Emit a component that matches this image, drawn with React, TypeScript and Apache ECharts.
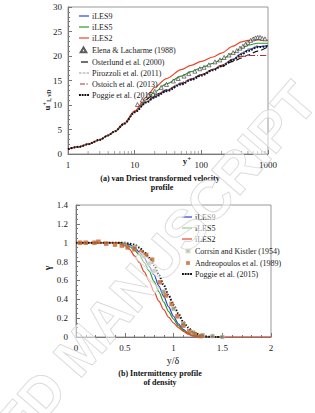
import React, { useEffect, useRef } from "react";
import * as echarts from "echarts";

// ---- Top chart: van Driest transformed velocity ----
const yPlus = [1, 1.5, 2, 3, 4, 5, 7, 10, 15, 20, 30, 50, 70, 100, 150, 200, 300, 400, 500, 700, 1000];
const iles9U = [1, 1.5, 2, 2.9, 3.8, 4.6, 6.2, 8.6, 10.6, 11.7, 12.9, 14.3, 15.2, 16.1, 17.2, 18.0, 19.3, 20.5, 21.2, 21.9, 22.1];
const iles5U = [1, 1.5, 2, 2.9, 3.8, 4.6, 6.2, 8.7, 11.1, 12.7, 14.3, 15.9, 16.8, 17.6, 18.5, 19.3, 20.6, 21.6, 22.2, 22.6, 22.6];
const iles2U = [1, 1.5, 2, 2.9, 3.8, 4.6, 6.3, 8.8, 11.6, 13.6, 15.4, 17.2, 18.1, 18.9, 19.8, 20.6, 22.0, 22.9, 23.2, 23.3, 23.2];
const pirozzoliU = [1, 1.5, 2, 2.9, 3.8, 4.6, 6.2, 8.6, 10.7, 11.9, 13.1, 14.5, 15.3, 16.2, 17.3, 18.1, 19.4, 20.6, 21.4, 22.2, null];
const ostoichU = [1, 1.5, 2, 2.9, 3.8, 4.6, 6.2, 8.6, 10.7, 11.8, 13.0, 14.4, 15.3, 16.2, 17.3, 18.1, 19.3, 19.9, 20.1, 20.1, 20.1];
const poggieU = [1, 1.5, 2, 2.9, 3.8, 4.6, 6.2, 8.5, 10.5, 11.6, 12.8, 14.2, 15.1, 16.0, 17.1, 17.9, 19.2, 20.3, 21.0, 21.8, 22.0];
const osterlundYPlus = [15, 20, 30, 50, 70, 100, 150, 200, 300, 400, 500, 700, 1000];
const osterlundU = [11.1, 12.0, 13.1, 14.5, 15.3, 16.2, 17.2, 17.9, 18.9, 19.6, 20.2, 21.0, 21.9];
const elenaYPlus = [11, 13, 16, 20, 25, 30, 38, 45, 55, 65, 80, 95, 110, 130, 160, 190, 220, 260, 300, 340, 380, 420, 460, 500, 550, 600, 650, 700, 760, 820, 900];
const elenaU = [10.1, 11.0, 12.0, 12.8, 13.6, 14.2, 14.9, 15.4, 15.9, 16.4, 16.9, 17.4, 17.7, 18.2, 18.8, 19.2, 19.7, 20.2, 20.7, 21.1, 21.6, 22.0, 22.4, 22.8, 23.2, 23.5, 23.7, 23.8, 23.8, 23.6, 23.5];
const logMinorTicks = [2, 3, 4, 5, 6, 7, 8, 9, 20, 30, 40, 50, 60, 70, 80, 90, 200, 300, 400, 500, 600, 700, 800, 900];

// ---- Bottom chart: intermittency profile ----
const yDelta = [0, 0.1, 0.2, 0.3, 0.4, 0.45, 0.5, 0.55, 0.6, 0.65, 0.7, 0.75, 0.8, 0.85, 0.9, 0.95, 1.0, 1.05, 1.1, 1.15, 1.2, 1.3, 1.4, 1.5, 1.75, 2.0];
const iles9G = [1, 1, 1, 1, 1, 1, 0.99, 0.98, 0.95, 0.9, 0.84, 0.75, 0.66, 0.54, 0.43, 0.32, 0.22, 0.14, 0.08, 0.04, 0.02, 0.0, 0.0, 0.0, null, null];
const iles5G = [1, 1, 1, 1, 1, 1, 0.99, 0.96, 0.92, 0.87, 0.79, 0.7, 0.59, 0.48, 0.37, 0.27, 0.19, 0.12, 0.07, 0.04, 0.02, 0.0, 0.0, 0.0, null, null];
const iles2G = [1, 1, 1, 1, 1, 0.99, 0.97, 0.93, 0.86, 0.79, 0.69, 0.59, 0.48, 0.38, 0.29, 0.21, 0.15, 0.1, 0.06, 0.03, 0.01, 0.0, 0.0, 0.0, 0.0, 0.0];
const poggieG = [1, 1, 1, 1, 1, 1, 1, 0.99, 0.98, 0.95, 0.9, 0.84, 0.76, 0.66, 0.55, 0.44, 0.34, 0.25, 0.16, 0.1, 0.05, 0.01, 0.0, 0.0, null, null];
const corrsinX = [0.5, 0.6, 0.7, 0.75, 0.8, 0.9, 1.0, 1.1, 1.2, 1.3, 1.4, 1.5];
const corrsinG = [0.98, 0.95, 0.86, 0.78, 0.7, 0.48, 0.3, 0.14, 0.05, 0.02, 0.01, 0.0];
const andreoX = [0.04, 0.1, 0.19, 0.23, 0.31, 0.4, 0.47, 0.53, 0.6, 0.67, 0.72, 0.78, 0.86, 0.92, 0.98, 1.04, 1.1, 1.16, 1.22, 1.28];
const andreoG = [1.0, 1.0, 1.0, 1.01, 0.99, 0.98, 0.97, 0.95, 0.93, 0.9, 0.87, 0.82, 0.58, 0.44, 0.35, 0.22, 0.12, 0.06, 0.03, 0.01];

const topLegendNames = [
  "iLES9",
  "iLES5",
  "iLES2",
  "Elena & Lacharme (1988)",
  "Osterlund et al. (2000)",
  "Pirozzoli et al. (2011)",
  "Ostoich et al. (2013)",
  "Poggie et al. (2015)",
];
const bottomLegendNames = [
  "iLES9 ",
  "iLES5 ",
  "iLES2 ",
  "Corrsin and Kistler (1954)",
  "Andreopoulos et al. (1989)",
  "Poggie et al. (2015) ",
];

const SERIF = "Liberation Serif";
const zip = (xs: number[], ys: (number | null)[]) => xs.map((x, i) => [x, ys[i]]);

// legend icons (10 x 8 boxes)
const BOX = "M0,0M10,8";
const ICONS: Record<string, string> = {
  solid: `path://${BOX}M0,3.4h10v1.2h-10z`,
  dash: `path://${BOX}M2,3.4h7v1.2h-7z`,
  greyDash: `path://${BOX}M0,3.4h2.6v1.2h-2.6zM3.8,3.4h2.6v1.2h-2.6zM7.6,3.4h2.4v1.2h-2.4z`,
  dashDot: `path://${BOX}M1,3.5h5v1h-5zM7.5,3.5h1.3v1h-1.3z`,
  dots: `path://${BOX}M0,3h1.9v2h-1.9zM2.7,3h1.9v2h-1.9zM5.4,3h1.9v2h-1.9zM8.1,3h1.9v2h-1.9z`,
  tri: `path://${BOX}M4.5,1.5L7.3,6.3L1.7,6.3Z`,
  sqSmall: `path://${BOX}M4.4,2.4h3.2v3.2h-3.2z`,
  sq: `path://${BOX}M4.1,2.1h3.8v3.8h-3.8z`,
};
const legendIconOf: Record<string, string> = {
  "iLES9": "solid",
  "iLES5": "solid",
  "iLES2": "solid",
  "Elena & Lacharme (1988)": "tri",
  "Osterlund et al. (2000)": "dash",
  "Pirozzoli et al. (2011)": "greyDash",
  "Ostoich et al. (2013)": "dashDot",
  "Poggie et al. (2015)": "dots",
  "Corrsin and Kistler (1954)": "sqSmall",
  "Andreopoulos et al. (1989)": "sq",
};

export default function App() {
  const ref = useRef<HTMLDivElement>(null);
  useEffect(() => {
    if (!ref.current) return;
    const chart = echarts.init(ref.current, null, { renderer: "svg" });
    const axisLine = { lineStyle: { color: "#777", width: 1 } };
    const labelStyle = { fontFamily: SERIF, fontSize: 9, color: "#222" };
    const lineSeries = (name: string, xi: number, data: any[], color: string, type: any, width = 1.2) => ({
      name,
      type: "line",
      xAxisIndex: xi,
      yAxisIndex: xi,
      data,
      symbol: "none",
      smooth: 0.3,
      smoothMonotone: "x",
      connectNulls: false,
      lineStyle: { color, width, type },
      itemStyle: { color },
      z: 3,
    });
    const legendItems = (names: string[]) =>
      names.map((n) => ({ name: n, icon: ICONS[legendIconOf[n.trim()]] }));
    const legendBase = {
      orient: "vertical",
      itemWidth: 10,
      itemHeight: 8,
      itemGap: 3.0,
      textStyle: { fontFamily: SERIF, fontSize: 8, color: "#222", padding: [0, 0, 0, -2] },
    };
    const option: any = {
      animation: false,
      backgroundColor: "#fff",
      grid: [
        { left: 68, top: 7, width: 200, height: 147, show: true, borderColor: "#999", borderWidth: 1 },
        { left: 76, top: 205, width: 195, height: 132, show: true, borderColor: "#999", borderWidth: 1 },
      ],
      xAxis: [
        {
          type: "log",
          logBase: 10,
          min: 1,
          max: 1000,
          gridIndex: 0,
          axisLine,
          axisTick: { inside: true, length: 4, lineStyle: { color: "#777" } },
          axisLabel: { ...labelStyle, margin: 6, formatter: (v: number) => String(v) },
          splitLine: { show: false },
        },
        {
          type: "value",
          min: 0,
          max: 2,
          interval: 0.5,
          gridIndex: 1,
          axisLine,
          axisTick: { inside: true, length: 4, lineStyle: { color: "#777" } },
          minorTick: { show: true, splitNumber: 5, length: 2, lineStyle: { color: "#777" } },
          axisLabel: { ...labelStyle, margin: 6 },
          splitLine: { show: false },
        },
      ],
      yAxis: [
        {
          type: "value",
          min: 0,
          max: 30,
          interval: 5,
          gridIndex: 0,
          axisLine: { show: true, ...axisLine },
          axisTick: { show: true, inside: true, length: 4, lineStyle: { color: "#777" } },
          minorTick: { show: true, splitNumber: 5, length: 2, lineStyle: { color: "#777" } },
          axisLabel: { ...labelStyle, margin: 6 },
          splitLine: { show: false },
        },
        {
          type: "value",
          min: 0,
          max: 1.4,
          interval: 0.2,
          gridIndex: 1,
          axisLine: { show: true, ...axisLine },
          axisTick: { show: true, inside: true, length: 4, lineStyle: { color: "#777" } },
          minorTick: { show: true, splitNumber: 4, length: 2, lineStyle: { color: "#777" } },
          axisLabel: { ...labelStyle, margin: 8 },
          splitLine: { show: false },
        },
      ],
      legend: [
        { ...legendBase, left: 73, top: 7, data: legendItems(topLegendNames) },
        { ...legendBase, left: 176, top: 208, data: legendItems(bottomLegendNames) },
      ],
      series: [
        lineSeries("iLES9", 0, zip(yPlus, iles9U), "#2a45d8", "solid"),
        lineSeries("iLES5", 0, zip(yPlus, iles5U), "#2e9a2e", "solid"),
        lineSeries("iLES2", 0, zip(yPlus, iles2U), "#e8452c", "solid"),
        {
          name: "Elena & Lacharme (1988)",
          type: "scatter",
          xAxisIndex: 0,
          yAxisIndex: 0,
          data: zip(elenaYPlus, elenaU),
          symbol: "triangle",
          symbolSize: 4,
          itemStyle: { color: "#fff", borderColor: "#333", borderWidth: 0.8 },
          z: 4,
        },
        lineSeries("Osterlund et al. (2000)", 0, zip(osterlundYPlus, osterlundU), "#111", [6, 3], 1.1),
        lineSeries("Pirozzoli et al. (2011)", 0, zip(yPlus, pirozzoliU), "#9a9a9a", [4, 3], 1.2),
        lineSeries("Ostoich et al. (2013)", 0, zip(yPlus, ostoichU), "#a83232", [6, 2, 1, 2], 1.1),
        lineSeries("Poggie et al. (2015)", 0, zip(yPlus, poggieU), "#111", [1.5, 1.5], 2),
        {
          type: "scatter",
          xAxisIndex: 0,
          yAxisIndex: 0,
          data: logMinorTicks.map((v) => [v, 0]),
          symbol: "rect",
          symbolSize: [0.8, 3],
          symbolOffset: [0, -1.5],
          itemStyle: { color: "#777" },
          silent: true,
          z: 1,
        },
        lineSeries("iLES9 ", 1, zip(yDelta, iles9G), "#2a45d8", "solid"),
        lineSeries("iLES5 ", 1, zip(yDelta, iles5G), "#2e9a2e", "solid"),
        lineSeries("iLES2 ", 1, zip(yDelta, iles2G), "#e8452c", "solid"),
        {
          name: "Corrsin and Kistler (1954)",
          type: "scatter",
          xAxisIndex: 1,
          yAxisIndex: 1,
          data: zip(corrsinX, corrsinG),
          symbol: "rect",
          symbolSize: 4,
          itemStyle: { color: "#8f8f78", borderColor: "#d8d8c8", borderWidth: 0.6 },
          z: 4,
        },
        {
          name: "Andreopoulos et al. (1989)",
          type: "scatter",
          xAxisIndex: 1,
          yAxisIndex: 1,
          data: zip(andreoX, andreoG),
          symbol: "rect",
          symbolSize: 4.5,
          itemStyle: { color: "#c2652c" },
          z: 4,
        },
        lineSeries("Poggie et al. (2015) ", 1, zip(yDelta, poggieG), "#111", [1.5, 1.5], 2),
      ],
      graphic: [
        {
          type: "text",
          x: 47,
          y: 100,
          rotation: Math.PI / 2,
          style: {
            text: "{u|u}{sup|+}{sub|I, vD}",
            align: "center",
            verticalAlign: "middle",
            rich: {
              u: { fontFamily: SERIF, fontSize: 9, fontWeight: "bold", fill: "#222" },
              sup: { fontFamily: SERIF, fontSize: 6, fontWeight: "bold", fill: "#222", verticalAlign: "top", padding: [0, 0, 4, 0] },
              sub: { fontFamily: SERIF, fontSize: 6, fontWeight: "bold", fill: "#222", verticalAlign: "bottom", padding: [3, 0, 0, 0] },
            },
          },
        },
        {
          type: "text",
          x: 187,
          y: 161,
          style: {
            text: "{y|y}{sup|+}",
            align: "center",
            verticalAlign: "middle",
            rich: {
              y: { fontFamily: SERIF, fontSize: 9, fontWeight: "bold", fill: "#222" },
              sup: { fontFamily: SERIF, fontSize: 7, fontWeight: "bold", fill: "#222", padding: [0, 0, 4, 0] },
            },
          },
        },
        {
          type: "text",
          x: 160,
          y: 178,
          style: { text: "(a) van Driest transformed velocity", align: "center", verticalAlign: "middle", fontFamily: SERIF, fontSize: 8, fontWeight: "bold", fill: "#111" },
        },
        {
          type: "text",
          x: 162,
          y: 187,
          style: { text: "profile", align: "center", verticalAlign: "middle", fontFamily: SERIF, fontSize: 8, fontWeight: "bold", fill: "#111" },
        },
        {
          type: "text",
          x: 47,
          y: 268,
          rotation: Math.PI / 2,
          style: { text: "γ", align: "center", verticalAlign: "middle", fontFamily: SERIF, fontSize: 10, fontWeight: "bold", fill: "#222" },
        },
        {
          type: "text",
          x: 173,
          y: 360,
          style: { text: "y/δ", align: "center", verticalAlign: "middle", fontFamily: SERIF, fontSize: 10, fill: "#222" },
        },
        {
          type: "text",
          x: 160,
          y: 373,
          style: { text: "(b) Intermittency profile", align: "center", verticalAlign: "middle", fontFamily: SERIF, fontSize: 8, fontWeight: "bold", fill: "#111" },
        },
        {
          type: "text",
          x: 160,
          y: 382,
          style: { text: "of density", align: "center", verticalAlign: "middle", fontFamily: SERIF, fontSize: 8, fontWeight: "bold", fill: "#111" },
        },
        {
          type: "text",
          x: 81,
          y: 349,
          rotation: (49 * Math.PI) / 180,
          z: 100,
          silent: true,
          style: {
            text: "ACCEPTED MANUSCRIPT",
            align: "center",
            verticalAlign: "middle",
            fontFamily: "Liberation Sans",
            fontSize: 55,
            fontWeight: "bold",
            fill: "rgba(255,255,255,0.5)",
            stroke: "rgba(200,200,200,0.85)",
            lineWidth: 1,
          },
        },
      ],
    };
    chart.setOption(option);
    return () => chart.dispose();
  }, []);
  return <div ref={ref} style={{ position: "fixed", left: 0, top: 0, width: 315, height: 413 }} />;
}
